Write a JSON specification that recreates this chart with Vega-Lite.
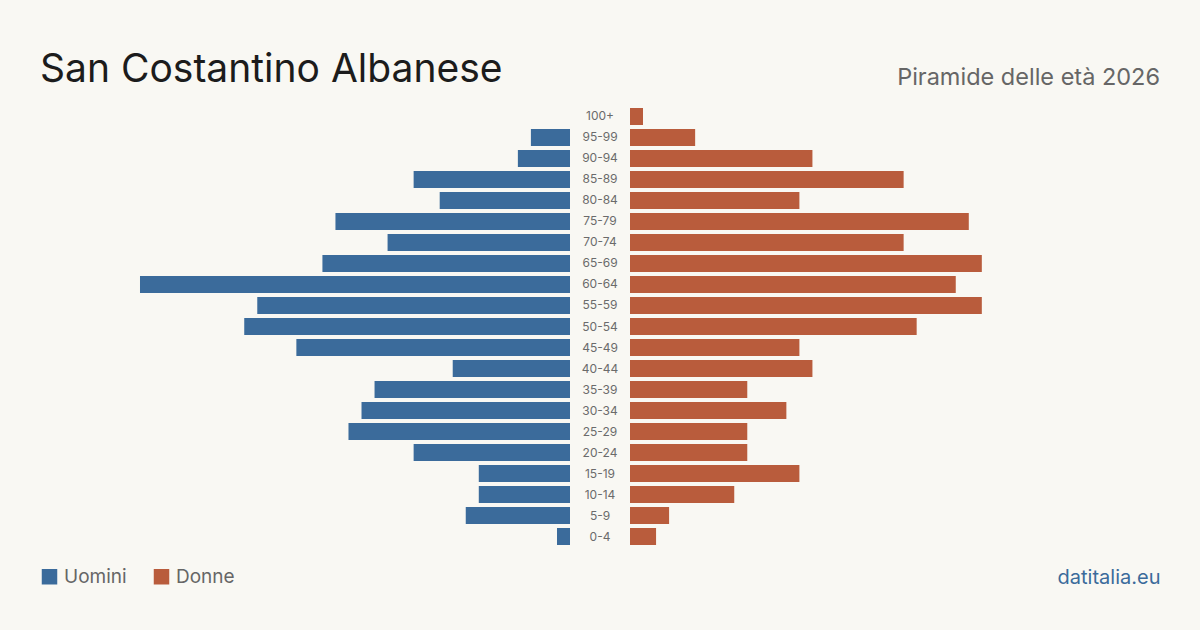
{
  "$schema": "https://vega.github.io/schema/vega-lite/v6.json",
  "background": "#f9f8f3",
  "padding": {"left": 40, "right": 40, "top": 51, "bottom": 44},
  "bounds": "flush",
  "spacing": 0,
  "config": {
    "view": {"stroke": null},
    "font": "Inter",
    "concat": {"spacing": 0}
  },
  "datasets": {
    "pop": [
      {"age": "100+", "sex": "Uomini", "n": 0}, {"age": "100+", "sex": "Donne", "n": 1},
      {"age": "95-99", "sex": "Uomini", "n": 3}, {"age": "95-99", "sex": "Donne", "n": 5},
      {"age": "90-94", "sex": "Uomini", "n": 4}, {"age": "90-94", "sex": "Donne", "n": 14},
      {"age": "85-89", "sex": "Uomini", "n": 12}, {"age": "85-89", "sex": "Donne", "n": 21},
      {"age": "80-84", "sex": "Uomini", "n": 10}, {"age": "80-84", "sex": "Donne", "n": 13},
      {"age": "75-79", "sex": "Uomini", "n": 18}, {"age": "75-79", "sex": "Donne", "n": 26},
      {"age": "70-74", "sex": "Uomini", "n": 14}, {"age": "70-74", "sex": "Donne", "n": 21},
      {"age": "65-69", "sex": "Uomini", "n": 19}, {"age": "65-69", "sex": "Donne", "n": 27},
      {"age": "60-64", "sex": "Uomini", "n": 33}, {"age": "60-64", "sex": "Donne", "n": 25},
      {"age": "55-59", "sex": "Uomini", "n": 24}, {"age": "55-59", "sex": "Donne", "n": 27},
      {"age": "50-54", "sex": "Uomini", "n": 25}, {"age": "50-54", "sex": "Donne", "n": 22},
      {"age": "45-49", "sex": "Uomini", "n": 21}, {"age": "45-49", "sex": "Donne", "n": 13},
      {"age": "40-44", "sex": "Uomini", "n": 9}, {"age": "40-44", "sex": "Donne", "n": 14},
      {"age": "35-39", "sex": "Uomini", "n": 15}, {"age": "35-39", "sex": "Donne", "n": 9},
      {"age": "30-34", "sex": "Uomini", "n": 16}, {"age": "30-34", "sex": "Donne", "n": 12},
      {"age": "25-29", "sex": "Uomini", "n": 17}, {"age": "25-29", "sex": "Donne", "n": 9},
      {"age": "20-24", "sex": "Uomini", "n": 12}, {"age": "20-24", "sex": "Donne", "n": 9},
      {"age": "15-19", "sex": "Uomini", "n": 7}, {"age": "15-19", "sex": "Donne", "n": 13},
      {"age": "10-14", "sex": "Uomini", "n": 7}, {"age": "10-14", "sex": "Donne", "n": 8},
      {"age": "5-9", "sex": "Uomini", "n": 8}, {"age": "5-9", "sex": "Donne", "n": 3},
      {"age": "0-4", "sex": "Uomini", "n": 1}, {"age": "0-4", "sex": "Donne", "n": 2}
    ]
  },
  "resolve": {"scale": {"y": "shared", "color": "shared"}},
  "hconcat": [
    {
      "width": 530,
      "height": 441,
      "data": {"name": "pop"},
      "title": {"text": "San Costantino Albanese", "anchor": "start", "fontSize": 39, "fontWeight": 400, "color": "#1c1c1c", "font": "Inter", "offset": 16},
      "transform": [{"filter": "datum.sex === 'Uomini'"}],
      "mark": {"type": "bar"},
      "encoding": {
        "y": {"field": "age", "type": "ordinal", "axis": null,
              "sort": ["100+","95-99","90-94","85-89","80-84","75-79","70-74","65-69","60-64","55-59","50-54","45-49","40-44","35-39","30-34","25-29","20-24","15-19","10-14","5-9","0-4"],
              "scale": {"paddingInner": 0.1905, "paddingOuter": 0.0952}},
        "x": {"field": "n", "type": "quantitative", "axis": null, "scale": {"domain": [0, 40.674], "reverse": true}},
        "color": {"field": "sex", "type": "nominal",
                  "scale": {"domain": ["Uomini", "Donne"], "range": ["#3b6b9b", "#b95c3c"]},
                  "legend": {"title": null, "orient": "none", "legendX": 0, "legendY": 461, "direction": "horizontal",
                             "symbolType": "square", "symbolSize": 240, "symbolStrokeWidth": 0, "symbolOpacity": 1,
                             "labelFontSize": 19, "labelColor": "#666666", "labelFont": "Inter", "labelOffset": 5,
                             "columnPadding": 25, "padding": 0}}
      }
    },
    {
      "width": 60,
      "height": 441,
      "data": {"name": "pop"},
      "transform": [{"filter": "datum.sex === 'Uomini'"}],
      "mark": {"type": "text", "fontSize": 12, "color": "#6b6b6b", "font": "Inter"},
      "encoding": {
        "y": {"field": "age", "type": "ordinal", "axis": null,
              "sort": ["100+","95-99","90-94","85-89","80-84","75-79","70-74","65-69","60-64","55-59","50-54","45-49","40-44","35-39","30-34","25-29","20-24","15-19","10-14","5-9","0-4"]},
        "text": {"field": "age", "type": "nominal"}
      }
    },
    {
      "width": 530,
      "height": 441,
      "data": {"name": "pop"},
      "title": {"text": "Piramide delle età 2026", "anchor": "end", "fontSize": 23.5, "fontWeight": 400, "color": "#666666", "font": "Inter", "offset": 17},
      "transform": [{"filter": "datum.sex === 'Donne'"}],
      "mark": {"type": "bar"},
      "encoding": {
        "y": {"field": "age", "type": "ordinal", "axis": null,
              "sort": ["100+","95-99","90-94","85-89","80-84","75-79","70-74","65-69","60-64","55-59","50-54","45-49","40-44","35-39","30-34","25-29","20-24","15-19","10-14","5-9","0-4"]},
        "x": {"field": "n", "type": "quantitative", "scale": {"domain": [0, 40.674]},
              "axis": {"title": "datitalia.eu", "labels": false, "ticks": false, "domain": false, "grid": false,
                       "titleAnchor": "end", "titleColor": "#3b6b9b", "titleFontSize": 20, "titleFontWeight": 400,
                       "titleFont": "Inter", "titlePadding": 20}},
        "color": {"field": "sex", "type": "nominal"}
      }
    }
  ]
}
